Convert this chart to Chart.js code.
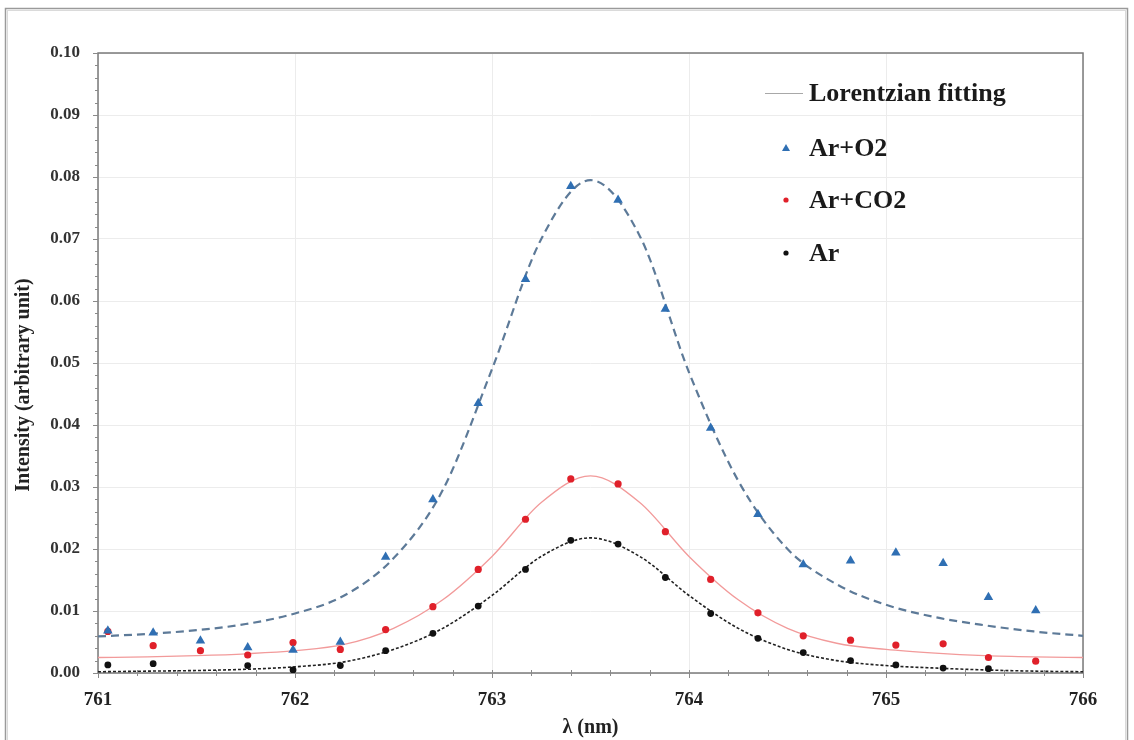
<!DOCTYPE html>
<html><head><meta charset="utf-8">
<script src="https://cdn.jsdelivr.net/npm/chart.js@4.4.1/dist/chart.umd.min.js"></script>
<style>html,body{margin:0;padding:0;background:#fff;}</style>
</head><body>
<canvas id="c" width="1134" height="740"></canvas>
<script>
// ---- data ----
const wavelengths = [761.05, 761.28, 761.52, 761.76, 761.99, 762.23, 762.46, 762.70, 762.93, 763.17, 763.40, 763.64, 763.88, 764.11, 764.35, 764.58, 764.82, 765.05, 765.29, 765.52, 765.76];
const arO2  = [0.0068, 0.0065, 0.0052, 0.0041, 0.0037, 0.0050, 0.0187, 0.0280, 0.0435, 0.0635, 0.0785, 0.0763, 0.0587, 0.0395, 0.0256, 0.0175, 0.0181, 0.0194, 0.0177, 0.0122, 0.0101];
const arCO2 = [0.0067, 0.0044, 0.0036, 0.0029, 0.0049, 0.0038, 0.0070, 0.0107, 0.0167, 0.0248, 0.0313, 0.0305, 0.0228, 0.0151, 0.0097, 0.0060, 0.0053, 0.0045, 0.0047, 0.0025, 0.0019];
const ar    = [0.0013, 0.0015, null, 0.0012, 0.0005, 0.0012, 0.0036, 0.0064, 0.0108, 0.0167, 0.0214, 0.0208, 0.0154, 0.0096, 0.0056, 0.0033, 0.0020, 0.0013, 0.0008, 0.0007, null];

const fitLambda = [761.0, 761.25, 761.5, 761.75, 762.0, 762.25, 762.5, 762.75, 763.0, 763.25, 763.5, 763.75, 764.0, 764.25, 764.5, 764.75, 765.0, 765.25, 765.5, 765.75, 766.0];
const fitArO2   = [0.0059, 0.0063, 0.0069, 0.0079, 0.0096, 0.0125, 0.0185, 0.0295, 0.0490, 0.0700, 0.0795, 0.0705, 0.0485, 0.0310, 0.0200, 0.0143, 0.0110, 0.0090, 0.0077, 0.0067, 0.0060];
const fitArCO2  = [0.0025, 0.0026, 0.0028, 0.0031, 0.0036, 0.0046, 0.0072, 0.0118, 0.0188, 0.0275, 0.0318, 0.0275, 0.0188, 0.0118, 0.0072, 0.0048, 0.0038, 0.0032, 0.0028, 0.0026, 0.0025];
const fitAr     = [0.0002, 0.0003, 0.0004, 0.0006, 0.0010, 0.0018, 0.0038, 0.0072, 0.0125, 0.0188, 0.0218, 0.0188, 0.0125, 0.0072, 0.0038, 0.0020, 0.0012, 0.0008, 0.0005, 0.0003, 0.0002];

const xTicks = [761, 762, 763, 764, 765, 766];
const yTicks = [0, 0.01, 0.02, 0.03, 0.04, 0.05, 0.06, 0.07, 0.08, 0.09, 0.10];
const seriesNames = ['Ar+O2', 'Ar+CO2', 'Ar'];
const fitName = 'Lorentzian fitting';
const xTitle = 'λ (nm)';
const yTitle = 'Intensity (arbitrary unit)';

const FONT = '"Liberation Serif", "Times New Roman", serif';
const pts = (xs, ys) => xs.map((x, i) => ({x: x, y: ys[i]}));

const decor = {
  id: 'decor',
  beforeDraw(chart) {
    const ctx = chart.ctx;
    ctx.save();
    ctx.fillStyle = '#fff';
    ctx.fillRect(0, 0, chart.width, chart.height);
    // outer figure frame
    ctx.strokeStyle = '#9a9a9a';
    ctx.lineWidth = 1.5;
    ctx.strokeRect(5.5, 8.5, 1122, 760);
    ctx.strokeStyle = '#dadada';
    ctx.lineWidth = 1;
    ctx.strokeRect(7.5, 10.5, 1118, 760);
    ctx.restore();
  },
  beforeDatasetsDraw(chart) {
    const ctx = chart.ctx, a = chart.chartArea;
    const xs = chart.scales.x, ys = chart.scales.y;
    ctx.save();
    ctx.strokeStyle = '#7a7a7a';
    ctx.lineWidth = 1.5;
    ctx.strokeRect(a.left, a.top, a.right - a.left, a.bottom - a.top);
    ctx.lineWidth = 1;
    ctx.strokeStyle = '#8a8a8a';
    for (let k = 0; k <= 50; k++) {
      const v = k * 0.002;
      const py = Math.round(ys.getPixelForValue(v)) + 0.5;
      const len = (k % 5 === 0) ? 5 : 3;
      ctx.beginPath(); ctx.moveTo(a.left - len, py); ctx.lineTo(a.left, py); ctx.stroke();
    }
    for (let k = 0; k <= 25; k++) {
      const v = 761 + k * 0.2;
      const px = Math.round(xs.getPixelForValue(v)) + 0.5;
      const len = (k % 5 === 0) ? 5 : 3;
      ctx.beginPath(); ctx.moveTo(px, a.bottom - 3); ctx.lineTo(px, a.bottom + len); ctx.stroke();
    }
    ctx.restore();
  },
  afterDraw(chart) {
    const ctx = chart.ctx;
    ctx.save();
    // y-axis title
    ctx.translate(24, 385);
    ctx.rotate(-Math.PI / 2);
    ctx.font = 'bold 20px ' + FONT;
    ctx.fillStyle = '#222';
    ctx.textAlign = 'center';
    ctx.textBaseline = 'middle';
    ctx.fillText(yTitle, 0, 0);
    ctx.restore();

    ctx.save();
    ctx.font = 'bold 26px ' + FONT;
    ctx.fillStyle = '#1a1a1a';
    ctx.textBaseline = 'middle';
    ctx.textAlign = 'left';
    ctx.strokeStyle = '#a8a8a8';
    ctx.lineWidth = 1;
    ctx.beginPath(); ctx.moveTo(765, 93.5); ctx.lineTo(803, 93.5); ctx.stroke();
    ctx.fillText(fitName, 809, 94);
    const rows = [148, 200, 253];
    const ds = chart.data.datasets;
    for (let i = 0; i < 3; i++) {
      const y = rows[i];
      ctx.fillStyle = ds[i].backgroundColor;
      if (i === 0) {
        ctx.beginPath(); ctx.moveTo(786, y - 4); ctx.lineTo(790, y + 3); ctx.lineTo(782, y + 3); ctx.closePath(); ctx.fill();
      } else {
        ctx.beginPath(); ctx.arc(786, y, 2.6, 0, Math.PI * 2); ctx.fill();
      }
      ctx.fillStyle = '#1a1a1a';
      ctx.fillText(seriesNames[i], 809, y + 1);
    }
    ctx.restore();
  }
};

new Chart(document.getElementById('c'), {
  type: 'scatter',
  data: {
    datasets: [
      { label: seriesNames[0], data: pts(wavelengths, arO2), pointStyle: 'triangle', pointRadius: 5.5, backgroundColor: '#2f6fb3', borderColor: '#2f6fb3', borderWidth: 0, order: 0 },
      { label: seriesNames[1], data: pts(wavelengths, arCO2), pointStyle: 'circle', pointRadius: 3.6, backgroundColor: '#e0202a', borderColor: '#e0202a', borderWidth: 0, order: 0 },
      { label: seriesNames[2], data: pts(wavelengths, ar), pointStyle: 'circle', pointRadius: 3.4, backgroundColor: '#111', borderColor: '#111', borderWidth: 0, order: 0 },
      { label: fitName + ' O2', data: pts(fitLambda, fitArO2), showLine: true, pointRadius: 0, borderColor: '#5d7a98', borderWidth: 2.2, borderDash: [8, 5], cubicInterpolationMode: 'monotone', order: 2 },
      { label: fitName + ' CO2', data: pts(fitLambda, fitArCO2), showLine: true, pointRadius: 0, borderColor: '#f29a9a', borderWidth: 1.3, cubicInterpolationMode: 'monotone', order: 2 },
      { label: fitName + ' Ar', data: pts(fitLambda, fitAr), showLine: true, pointRadius: 0, borderColor: '#222', borderWidth: 1.6, borderDash: [3, 2], cubicInterpolationMode: 'monotone', order: 2 }
    ]
  },
  options: {
    responsive: false,
    animation: false,
    devicePixelRatio: 1,
    layout: { padding: { left: 0, top: 53, right: 51, bottom: 0 } },
    plugins: { legend: { display: false }, tooltip: { enabled: false } },
    scales: {
      x: {
        type: 'linear', min: 761, max: 766,
        afterFit: s => { s.height = 67; },
        afterBuildTicks: s => { s.ticks = xTicks.map(v => ({ value: v })); },
        grid: { color: '#ececec', lineWidth: 1, drawTicks: false },
        border: { display: false },
        ticks: { padding: 16, color: '#222', font: { family: FONT, size: 19, weight: 'bold' }, callback: v => String(v), maxRotation: 0 },
        title: { display: true, text: xTitle, color: '#222', font: { family: FONT, size: 20, weight: 'bold' }, padding: { top: 0, bottom: 0 } }
      },
      y: {
        type: 'linear', min: 0, max: 0.1,
        afterFit: s => { s.width = 98; },
        afterBuildTicks: s => { s.ticks = yTicks.map(v => ({ value: v })); },
        grid: { color: '#ececec', lineWidth: 1, drawTicks: false },
        border: { display: false },
        ticks: { padding: 18, color: '#333', font: { family: FONT, size: 17, weight: 'bold' }, callback: v => v.toFixed(2) },
        title: { display: false }
      }
    }
  },
  plugins: [decor]
});
</script>
</body></html>
